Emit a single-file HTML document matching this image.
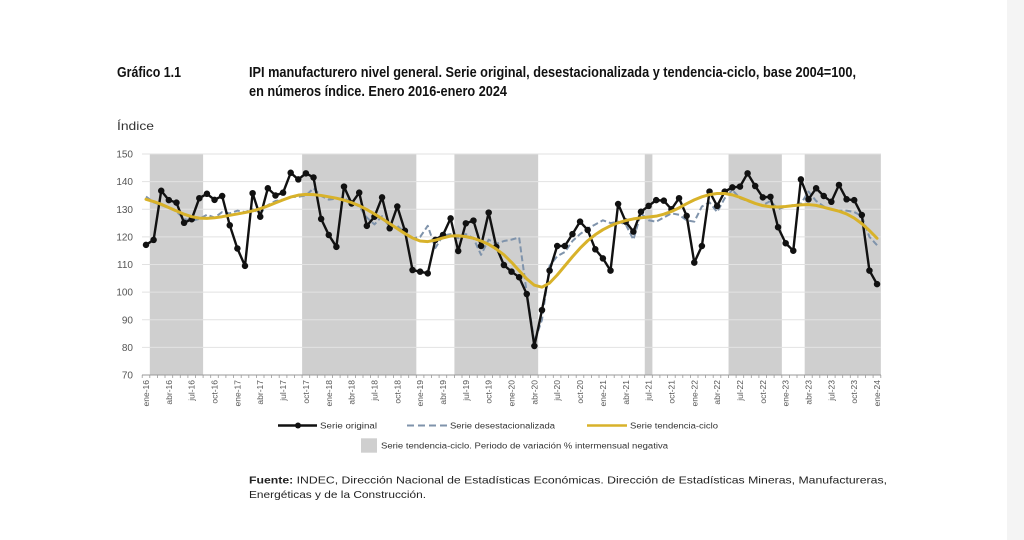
<!DOCTYPE html>
<html><head><meta charset="utf-8"><style>
html,body{margin:0;padding:0;background:#fff;}
svg{display:block;}
text{font-family:"Liberation Sans",sans-serif;}
</style></head><body>
<svg width="1024" height="540" viewBox="0 0 1024 540" xmlns="http://www.w3.org/2000/svg">
<rect x="0" y="0" width="1024" height="540" fill="#ffffff"/>
<rect x="1007" y="0" width="17" height="540" fill="#f4f4f4"/>

<!-- Titles -->
<text x="117" y="77" font-size="14.5" font-weight="bold" fill="#111" textLength="64" lengthAdjust="spacingAndGlyphs">Gráfico 1.1</text>
<text x="249" y="77" font-size="14.5" font-weight="bold" fill="#111" textLength="607" lengthAdjust="spacingAndGlyphs">IPI manufacturero nivel general. Serie original, desestacionalizada y tendencia-ciclo, base 2004=100,</text>
<text x="249" y="96" font-size="14.5" font-weight="bold" fill="#111" textLength="258" lengthAdjust="spacingAndGlyphs">en números índice. Enero 2016-enero 2024</text>
<text x="117" y="130" font-size="12" fill="#333" textLength="37" lengthAdjust="spacingAndGlyphs">Índice</text>

<!-- Shaded bands -->
<g fill="#cfcfcf">
<rect x="149.81" y="154" width="53.3" height="221"/>
<rect x="302.11" y="154" width="114.22" height="221"/>
<rect x="454.41" y="154" width="83.76" height="221"/>
<rect x="644.78" y="154" width="7.62" height="221"/>
<rect x="728.55" y="154" width="53.3" height="221"/>
<rect x="804.70" y="154" width="76.15" height="221"/>
</g>

<!-- Gridlines -->
<g stroke="#e2e2e2" stroke-width="1">
<line x1="142" y1="154" x2="881" y2="154"/>
<line x1="142" y1="181.6" x2="881" y2="181.6"/>
<line x1="142" y1="209.25" x2="881" y2="209.25"/>
<line x1="142" y1="236.9" x2="881" y2="236.9"/>
<line x1="142" y1="264.5" x2="881" y2="264.5"/>
<line x1="142" y1="292.1" x2="881" y2="292.1"/>
<line x1="142" y1="319.75" x2="881" y2="319.75"/>
<line x1="142" y1="347.4" x2="881" y2="347.4"/>
</g>
<line x1="142" y1="375" x2="881" y2="375" stroke="#9a9a9a" stroke-width="1"/>

<!-- Ticks -->
<path stroke="#9a9a9a" stroke-width="0.8" fill="none" d="M142.2,375v3M149.8,375v3M157.4,375v3M165.0,375v3M172.7,375v3M180.3,375v3M187.9,375v3M195.5,375v3M203.1,375v3M210.7,375v3M218.3,375v3M225.9,375v3M233.6,375v3M241.2,375v3M248.8,375v3M256.4,375v3M264.0,375v3M271.6,375v3M279.2,375v3M286.9,375v3M294.5,375v3M302.1,375v3M309.7,375v3M317.3,375v3M324.9,375v3M332.5,375v3M340.1,375v3M347.8,375v3M355.4,375v3M363.0,375v3M370.6,375v3M378.2,375v3M385.8,375v3M393.4,375v3M401.0,375v3M408.7,375v3M416.3,375v3M423.9,375v3M431.5,375v3M439.1,375v3M446.7,375v3M454.4,375v3M462.0,375v3M469.6,375v3M477.2,375v3M484.8,375v3M492.4,375v3M500.0,375v3M507.7,375v3M515.3,375v3M522.9,375v3M530.5,375v3M538.1,375v3M545.7,375v3M553.3,375v3M560.9,375v3M568.6,375v3M576.2,375v3M583.8,375v3M591.4,375v3M599.0,375v3M606.6,375v3M614.2,375v3M621.9,375v3M629.5,375v3M637.1,375v3M644.7,375v3M652.3,375v3M659.9,375v3M667.5,375v3M675.2,375v3M682.8,375v3M690.4,375v3M698.0,375v3M705.6,375v3M713.2,375v3M720.8,375v3M728.5,375v3M736.1,375v3M743.7,375v3M751.3,375v3M758.9,375v3M766.5,375v3M774.1,375v3M781.8,375v3M789.4,375v3M797.0,375v3M804.6,375v3M812.2,375v3M819.8,375v3M827.4,375v3M835.1,375v3M842.7,375v3M850.3,375v3M857.9,375v3M865.5,375v3M873.1,375v3M880.8,375v3"/>

<!-- Y labels -->
<g font-size="10" fill="#555" text-anchor="end">
<text x="133" y="157.5">150</text>
<text x="133" y="185.1">140</text>
<text x="133" y="212.75">130</text>
<text x="133" y="240.4">120</text>
<text x="133" y="268">110</text>
<text x="133" y="295.6">100</text>
<text x="133" y="323.25">90</text>
<text x="133" y="350.9">80</text>
<text x="133" y="378.5">70</text>
</g>

<!-- X labels -->
<g font-size="8.5" fill="#555" text-anchor="end">
<text transform="translate(149,380) rotate(-90)">ene-16</text>
<text transform="translate(171.85,380) rotate(-90)">abr-16</text>
<text transform="translate(194.69,380) rotate(-90)">jul-16</text>
<text transform="translate(217.54,380) rotate(-90)">oct-16</text>
<text transform="translate(240.38,380) rotate(-90)">ene-17</text>
<text transform="translate(263.23,380) rotate(-90)">abr-17</text>
<text transform="translate(286.07,380) rotate(-90)">jul-17</text>
<text transform="translate(308.92,380) rotate(-90)">oct-17</text>
<text transform="translate(331.76,380) rotate(-90)">ene-18</text>
<text transform="translate(354.61,380) rotate(-90)">abr-18</text>
<text transform="translate(377.45,380) rotate(-90)">jul-18</text>
<text transform="translate(400.30,380) rotate(-90)">oct-18</text>
<text transform="translate(423.14,380) rotate(-90)">ene-19</text>
<text transform="translate(445.99,380) rotate(-90)">abr-19</text>
<text transform="translate(468.83,380) rotate(-90)">jul-19</text>
<text transform="translate(491.68,380) rotate(-90)">oct-19</text>
<text transform="translate(514.52,380) rotate(-90)">ene-20</text>
<text transform="translate(537.37,380) rotate(-90)">abr-20</text>
<text transform="translate(560.21,380) rotate(-90)">jul-20</text>
<text transform="translate(583.06,380) rotate(-90)">oct-20</text>
<text transform="translate(605.90,380) rotate(-90)">ene-21</text>
<text transform="translate(628.75,380) rotate(-90)">abr-21</text>
<text transform="translate(651.59,380) rotate(-90)">jul-21</text>
<text transform="translate(674.44,380) rotate(-90)">oct-21</text>
<text transform="translate(697.28,380) rotate(-90)">ene-22</text>
<text transform="translate(720.13,380) rotate(-90)">abr-22</text>
<text transform="translate(742.97,380) rotate(-90)">jul-22</text>
<text transform="translate(765.82,380) rotate(-90)">oct-22</text>
<text transform="translate(788.66,380) rotate(-90)">ene-23</text>
<text transform="translate(811.51,380) rotate(-90)">abr-23</text>
<text transform="translate(834.35,380) rotate(-90)">jul-23</text>
<text transform="translate(857.20,380) rotate(-90)">oct-23</text>
<text transform="translate(880.04,380) rotate(-90)">ene-24</text>
</g>

<!-- Series in data coordinates -->
<g transform="translate(146 568.375) scale(7.615 -2.7625)" fill="none">
<polyline vector-effect="non-scaling-stroke" stroke="#7f93ab" stroke-width="2" stroke-dasharray="6 3" stroke-linejoin="round" points="0,134.6 1,132.5 2,131.5 3,130.5 4,129.2 5,126.5 6,125.8 7,126.5 8,128 9,127 10,129 11,128.5 12,129.5 13,129 14,130 15,128.5 16,131.5 17,133 18,133.5 19,134.5 20,134.5 21,135 22,137.6 23,134.8 24,133.5 25,133.8 26,134 27,132.5 28,131 29,127 30,124.5 31,127.5 32,123.5 33,124 34,121.5 35,119.5 36,120 37,124 38,116 39,120.5 40,121 41,119.5 42,121 43,119.5 44,113.5 45,119 46,117.5 47,118.5 48,119 49,119.8 50,99.7 51,82 52,90 53,109.5 54,113 55,114.5 56,118.5 57,121 58,123 59,124.5 60,126 61,125 62,125.5 63,124.5 64,119 65,128.5 66,126 67,125.5 68,127 69,128.5 70,128 71,126 72,125.5 73,131 74,132.5 75,129 76,134 77,137 78,134 79,133 80,132 81,131.5 82,133 83,130 84,131 85,131.5 86,132 87,136.4 88,133 89,131 90,130 91,129.5 92,129.5 93,129 94,127.5 95,120 96,117"/>
<polyline vector-effect="non-scaling-stroke" stroke="#111" stroke-width="2.4" stroke-linejoin="round" points="0,117.1 1,118.9 2,136.7 3,133.3 4,132.4 5,125.1 6,126.4 7,134 8,135.6 9,133.4 10,134.8 11,124.2 12,115.8 13,109.5 14,135.8 15,127.3 16,137.6 17,135 18,136 19,143.2 20,140.8 21,143 22,141.5 23,126.5 24,120.7 25,116.4 26,138.2 27,132.1 28,136 29,124 30,127.3 31,134.3 32,123.1 33,131 34,122.2 35,108 36,107.4 37,106.8 38,118.9 39,120.7 40,126.7 41,114.9 42,124.9 43,125.9 44,116.7 45,128.8 46,116.4 47,109.8 48,107.4 49,105.4 50,99.3 51,80.5 52,93.5 53,107.8 54,116.7 55,116.7 56,121 57,125.5 58,122.5 59,115.5 60,112.2 61,107.8 62,131.9 63,125.5 64,121.9 65,129.1 66,131.2 67,133.3 68,133.1 69,130 70,134 71,127.6 72,110.7 73,116.7 74,136.4 75,131.2 76,136.4 77,137.9 78,138.2 79,143 80,138.4 81,134.3 82,134.5 83,123.5 84,117.7 85,115 86,140.8 87,133.6 88,137.6 89,134.8 90,132.7 91,138.8 92,133.6 93,133.3 94,127.9 95,107.8 96,102.9"/>
<path vector-effect="non-scaling-stroke" stroke="#111" stroke-width="6.5" stroke-linecap="round" d="M0,117.1h0.001M1,118.9h0.001M2,136.7h0.001M3,133.3h0.001M4,132.4h0.001M5,125.1h0.001M6,126.4h0.001M7,134h0.001M8,135.6h0.001M9,133.4h0.001M10,134.8h0.001M11,124.2h0.001M12,115.8h0.001M13,109.5h0.001M14,135.8h0.001M15,127.3h0.001M16,137.6h0.001M17,135h0.001M18,136h0.001M19,143.2h0.001M20,140.8h0.001M21,143h0.001M22,141.5h0.001M23,126.5h0.001M24,120.7h0.001M25,116.4h0.001M26,138.2h0.001M27,132.1h0.001M28,136h0.001M29,124h0.001M30,127.3h0.001M31,134.3h0.001M32,123.1h0.001M33,131h0.001M34,122.2h0.001M35,108h0.001M36,107.4h0.001M37,106.8h0.001M38,118.9h0.001M39,120.7h0.001M40,126.7h0.001M41,114.9h0.001M42,124.9h0.001M43,125.9h0.001M44,116.7h0.001M45,128.8h0.001M46,116.4h0.001M47,109.8h0.001M48,107.4h0.001M49,105.4h0.001M50,99.3h0.001M51,80.5h0.001M52,93.5h0.001M53,107.8h0.001M54,116.7h0.001M55,116.7h0.001M56,121h0.001M57,125.5h0.001M58,122.5h0.001M59,115.5h0.001M60,112.2h0.001M61,107.8h0.001M62,131.9h0.001M63,125.5h0.001M64,121.9h0.001M65,129.1h0.001M66,131.2h0.001M67,133.3h0.001M68,133.1h0.001M69,130h0.001M70,134h0.001M71,127.6h0.001M72,110.7h0.001M73,116.7h0.001M74,136.4h0.001M75,131.2h0.001M76,136.4h0.001M77,137.9h0.001M78,138.2h0.001M79,143h0.001M80,138.4h0.001M81,134.3h0.001M82,134.5h0.001M83,123.5h0.001M84,117.7h0.001M85,115h0.001M86,140.8h0.001M87,133.6h0.001M88,137.6h0.001M89,134.8h0.001M90,132.7h0.001M91,138.8h0.001M92,133.6h0.001M93,133.3h0.001M94,127.9h0.001M95,107.8h0.001M96,102.9h0.001"/>
<polyline vector-effect="non-scaling-stroke" stroke="#d8b22a" stroke-width="3" stroke-linejoin="round" stroke-linecap="round" points="0,133.6 1,132.8 2,131.8 3,130.6 4,129.4 5,128.2 6,127.3 7,126.8 8,126.7 9,126.9 10,127.3 11,127.8 12,128.3 13,128.8 14,129.4 15,130.2 16,131.2 17,132.3 18,133.4 19,134.4 20,135.1 21,135.4 22,135.3 23,135 24,134.5 25,134 26,133.3 27,132.4 28,131.3 29,129.9 30,128.3 31,126.6 32,124.8 33,123 34,121.2 35,119.6 36,118.5 37,118.3 38,118.8 39,119.6 40,120.3 41,120.4 42,120.1 43,119.5 44,118.5 45,117.3 46,115.6 47,113.5 48,110.8 49,107.8 50,104.8 51,102.5 52,101.8 53,103.3 54,106.2 55,109.5 56,112.8 57,115.9 58,118.6 59,120.8 60,122.6 61,124 62,125.1 63,125.9 64,126.5 65,126.9 66,127.2 67,127.5 68,128.2 69,129.2 70,130.5 71,132 72,133.4 73,134.5 74,135.3 75,135.7 76,135.7 77,135.2 78,134.3 79,133.2 80,132.1 81,131.3 82,130.9 83,130.8 84,131 85,131.3 86,131.6 87,131.7 88,131.4 89,130.7 90,130 91,129.3 92,128.3 93,126.8 94,124.8 95,122.3 96,119.5"/>
</g>

<!-- Legend -->
<line x1="278" y1="425.5" x2="317" y2="425.5" stroke="#111" stroke-width="2.4"/>
<circle cx="298" cy="425.5" r="3" fill="#111"/>
<text x="320" y="428.5" font-size="8" fill="#333" textLength="57" lengthAdjust="spacingAndGlyphs">Serie original</text>
<line x1="407" y1="425.5" x2="448" y2="425.5" stroke="#7f93ab" stroke-width="2" stroke-dasharray="7 4"/>
<text x="450" y="428.5" font-size="8" fill="#333" textLength="105" lengthAdjust="spacingAndGlyphs">Serie desestacionalizada</text>
<line x1="587" y1="425.5" x2="627" y2="425.5" stroke="#d8b22a" stroke-width="2.6"/>
<text x="630" y="428.5" font-size="8" fill="#333" textLength="88" lengthAdjust="spacingAndGlyphs">Serie tendencia-ciclo</text>
<rect x="361" y="438.3" width="16" height="14.4" fill="#cfcfcf"/>
<text x="381" y="448.5" font-size="8" fill="#333" textLength="287" lengthAdjust="spacingAndGlyphs">Serie tendencia-ciclo. Periodo de variación % intermensual negativa</text>

<!-- Footer -->
<text x="249" y="483.5" font-size="10.5" fill="#222" textLength="638" lengthAdjust="spacingAndGlyphs"><tspan font-weight="bold">Fuente:</tspan> INDEC, Dirección Nacional de Estadísticas Económicas. Dirección de Estadísticas Mineras, Manufactureras,</text>
<text x="249" y="498" font-size="10.5" fill="#222" textLength="177" lengthAdjust="spacingAndGlyphs">Energéticas y de la Construcción.</text>
</svg>
</body></html>
